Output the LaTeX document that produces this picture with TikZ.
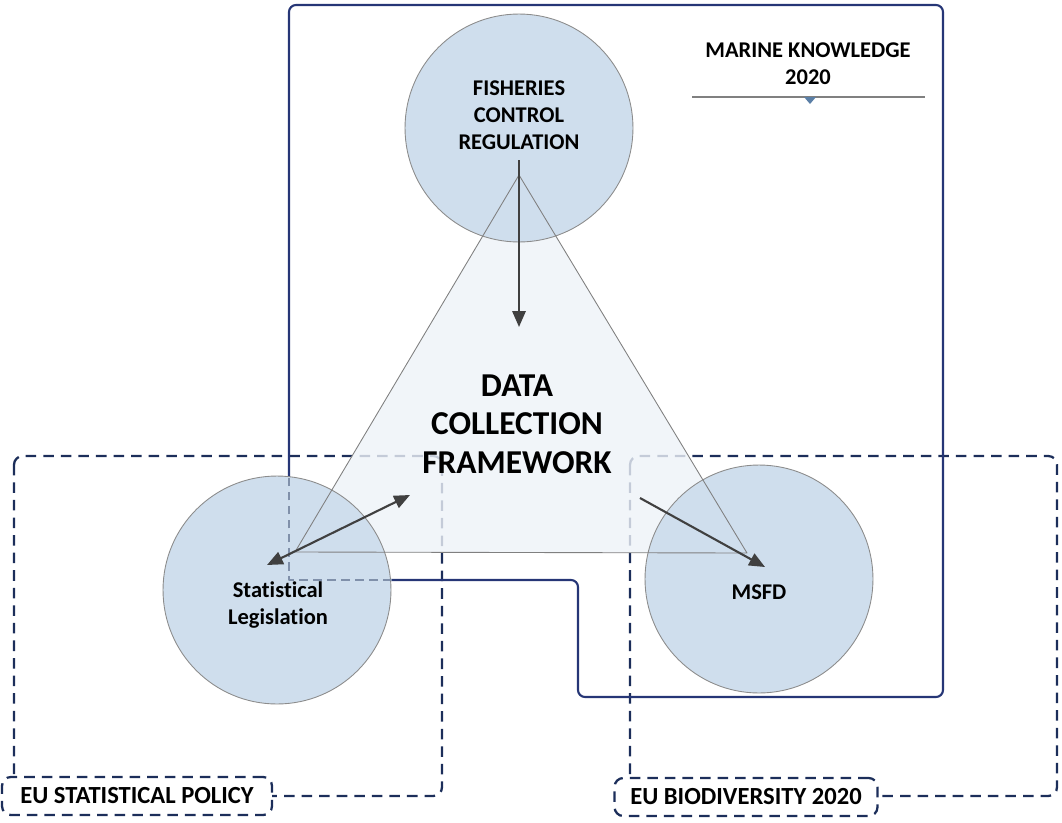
\documentclass[tikz,border=0pt]{standalone}
\usepackage{fontspec}
\setmainfont{Carlito}[Ligatures=NoCommon]
\usetikzlibrary{arrows.meta}
\definecolor{discfill}{RGB}{207,222,237}
\definecolor{trifill}{RGB}{238,243,248}
\definecolor{navy}{RGB}{38,54,118}
\definecolor{dashnavy}{RGB}{28,46,90}
\definecolor{hidden}{RGB}{128,144,170}
\definecolor{arrowgrey}{RGB}{64,64,64}
\definecolor{tipblue}{RGB}{91,127,166}
\begin{document}
\begin{tikzpicture}[x=0.02cm, y=-0.02cm, >={Triangle[length=9pt,width=7.5pt]},
  line join=round,
  disc/.style={circle, draw=gray!90, line width=0.5pt, fill=discfill, minimum size=4.56cm, inner sep=0pt},
  lbl/.style={align=center, font=\fontsize{12.8}{15.5}\selectfont\bfseries},
  biglbl/.style={align=center, font=\fontsize{19}{22}\selectfont\bfseries},
  groupbox/.style={draw=dashnavy, line width=1.3pt, dash pattern=on 6pt off 4pt, rounded corners=5pt},
  tagbox/.style={groupbox, fill=white, minimum width=5.4cm, minimum height=0.76cm, inner sep=0pt, font=\fontsize{14}{16}\selectfont\bfseries},
  link/.style={->, draw=arrowgrey, fill=arrowgrey, line width=1.2pt}]
\useasboundingbox (0,0) rectangle (1062,822);
% policy groups
\draw[groupbox] (14,456) rectangle (442,796);
\draw[groupbox] (630,456) rectangle (1057,796);
% corners of the framework triangle
\coordinate (T) at (519,175);
\coordinate (L) at (295,552);
\coordinate (R) at (747,553);
\fill[trifill, fill opacity=0.8] (T) -- (L) -- (R) -- cycle;
% marine knowledge frame
\draw[navy, line width=1.2pt, rounded corners=4pt] (289,478) -- (289,5) -- (943,5) -- (943,697)
  -- (578,697) -- (578,580) -- (289,580) -- cycle;
% the three policies
\node[disc] (fcr) at (519,128) {};
\node[disc] (stat) at (277,590) {};
\node[disc] (msfd) at (759,579) {};
\draw[gray, line width=0.5pt] (T) -- (L) -- (R) -- cycle;
\draw[hidden, line width=0.9pt, dash pattern=on 5pt off 3pt] (392,580) -- (289,580) -- (289,478);
% texts
\node[lbl] (fcrT) at (519,115) {FISHERIES\\CONTROL\\REGULATION};
\node[lbl] (statT) at (278,605) {Statistical\\Legislation};
\node[lbl] (msfdT) at (759,592) {MSFD};
\node[biglbl] (dcf) at (517,424) {DATA\\COLLECTION\\FRAMEWORK};
\node[lbl] (mk) at (808,64) {MARINE KNOWLEDGE\\2020};
\draw[gray, line width=0.7pt] (692,97) -- (925,97);
\fill[tipblue] (804,97) -- (816,97) -- (810,104) -- cycle;
\node[tagbox] (espol) at (137,796) {EU STATISTICAL POLICY};
\node[tagbox, minimum width=5.26cm] (ebio) at (746,797) {EU BIODIVERSITY 2020};
% links
\coordinate (a1) at (519,160);
\coordinate (a2) at (519,327);
\coordinate (b1) at (267,565);
\coordinate (b2) at (410,495);
\coordinate (c1) at (640,498);
\coordinate (c2) at (765,567);
\draw[link] (a1) -- (a2);
\draw[link, <->] (b1) -- (b2);
\draw[link] (c1) -- (c2);
\end{tikzpicture}
\end{document}
